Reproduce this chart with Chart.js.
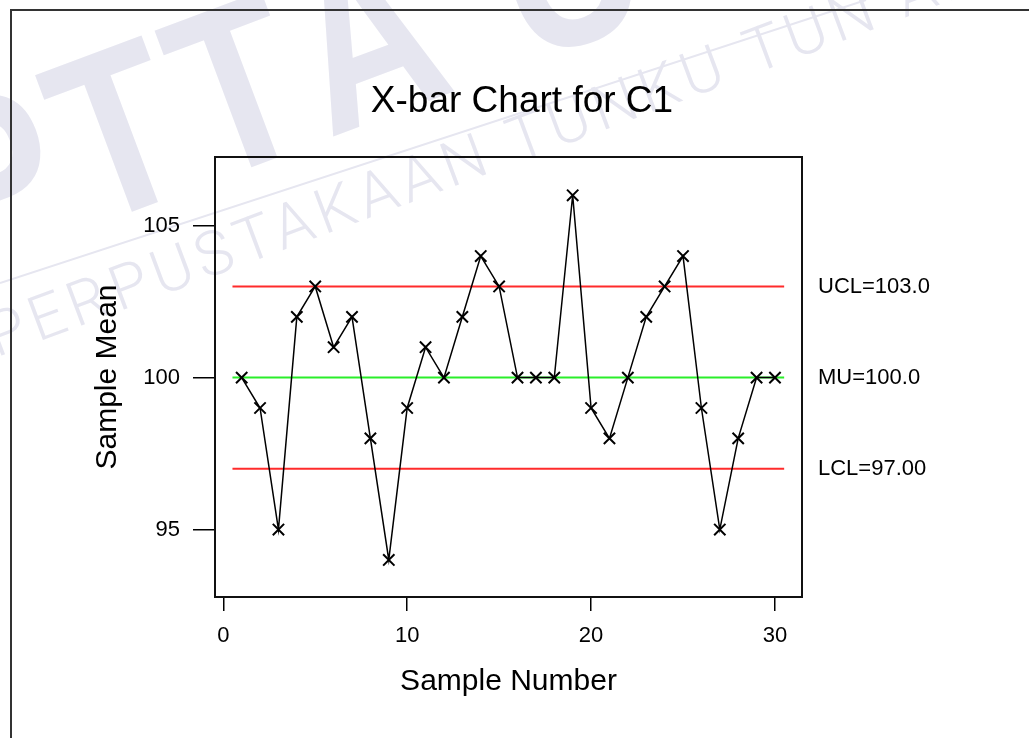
<!DOCTYPE html>
<html>
<head>
<meta charset="utf-8">
<title>X-bar Chart for C1</title>
<script src="https://cdn.jsdelivr.net/npm/chart.js@4.4.1/dist/chart.umd.min.js"></script>
<style>
  html, body { margin: 0; padding: 0; background: #fff; }
  #wrap { position: relative; width: 1029px; height: 738px; }
</style>
</head>
<body>
<div id="wrap"><canvas id="xbarChart" width="1029" height="738"></canvas></div>
<script>
// X-bar chart for C1: subgroup means with centre line and 3-sigma limits
var sampleNumbers = [1, 2, 3, 4, 5, 6, 7, 8, 9, 10, 11, 12, 13, 14, 15,
                     16, 17, 18, 19, 20, 21, 22, 23, 24, 25, 26, 27, 28, 29, 30];
var sampleMeans = [100, 99, 95, 102, 103, 101, 102, 98, 94, 99, 101, 100, 102, 104, 103,
                   100, 100, 100, 106, 99, 98, 100, 102, 103, 104, 99, 95, 98, 100, 100];
var centerLine = 100.0;
var upperLimit = 103.0;
var lowerLimit = 97.0;
var limitSpan = [0.5, 30.5];
var xTicks = [0, 10, 20, 30];
var yTicks = [95, 100, 105];
var limitTicks = [lowerLimit, centerLine, upperLimit];
var limitLabels = ['LCL=97.00', 'MU=100.0', 'UCL=103.0'];

Chart.defaults.font.family = '"Liberation Sans", Arial, Helvetica, sans-serif';
Chart.defaults.color = '#000';

function limitLine(value) {
  return limitSpan.map(function(x) { return { x: x, y: value }; });
}

// page background, library stamp and page frame
var pagePlugin = {
  id: 'page',
  beforeDraw: function(chart) {
    var c = chart.ctx;
    c.save();
    c.fillStyle = '#fff';
    c.fillRect(0, 0, chart.width, chart.height);

    var ang = -20.5 * Math.PI / 180;
    c.fillStyle = '#e6e6f0';
    c.strokeStyle = '#e6e6f0';

    // big stamp letters, narrow bold face
    c.save();
    c.translate(145, 207);
    c.rotate(ang);
    c.scale(0.82, 1);
    c.font = 'bold 235px "Liberation Sans", Arial, sans-serif';
    c.fontKerning = 'none';
    c.letterSpacing = '12px';
    c.textBaseline = 'alphabetic';
    var x0 = -(c.measureText('P').width + c.measureText('T').width / 2 - 6);
    c.fillText('PTTA UTHM', x0, 0);
    c.restore();

    c.save();
    c.translate(0, 356);
    c.rotate(ang);
    c.font = '300 62px Roboto, Lato, "Liberation Sans", sans-serif';
    c.letterSpacing = '6px';
    c.fillText('PERPUSTAKAAN TUNKU TUN AMINAH', -4, 0);
    c.restore();

    c.lineWidth = 2;
    c.beginPath();
    c.moveTo(0, 283);
    c.lineTo(866, 0);
    c.stroke();
    c.restore();
  },
  afterDraw: function(chart) {
    var c = chart.ctx;
    c.save();
    c.strokeStyle = '#333';
    c.lineWidth = 2;
    c.beginPath();
    c.moveTo(chart.width, 10);
    c.lineTo(11, 10);
    c.lineTo(11, chart.height);
    c.stroke();
    c.restore();
  }
};

// closed box around the plotting region
var boxPlugin = {
  id: 'box',
  afterDatasetsDraw: function(chart) {
    var a = chart.chartArea;
    var c = chart.ctx;
    c.save();
    c.strokeStyle = '#111';
    c.lineWidth = 2;
    c.strokeRect(a.left, a.top, a.right - a.left, a.bottom - a.top);
    c.restore();
  }
};

new Chart(document.getElementById('xbarChart'), {
  type: 'line',
  data: {
    datasets: [{
      label: 'C1',
      data: sampleNumbers.map(function(n, i) { return { x: n, y: sampleMeans[i] }; }),
      borderColor: '#000',
      borderWidth: 1.5,
      pointStyle: 'crossRot',
      pointRadius: 8,
      pointBorderWidth: 2,
      pointBorderColor: '#000',
      tension: 0
    }, {
      label: 'UCL',
      data: limitLine(upperLimit),
      borderColor: '#ff2b2b',
      borderWidth: 2,
      pointRadius: 0
    }, {
      label: 'MU',
      data: limitLine(centerLine),
      borderColor: '#2aee2a',
      borderWidth: 2,
      pointRadius: 0
    }, {
      label: 'LCL',
      data: limitLine(lowerLimit),
      borderColor: '#ff2b2b',
      borderWidth: 2,
      pointRadius: 0
    }]
  },
  options: {
    responsive: false,
    animation: false,
    devicePixelRatio: 1,
    layout: { padding: { left: 20, right: 5, top: 80, bottom: 21 } },
    plugins: {
      legend: { display: false },
      tooltip: { enabled: false },
      title: {
        display: true,
        text: 'X-bar Chart for C1',
        color: '#000',
        font: { size: 37, weight: 'normal' },
        padding: { top: 0, bottom: 32.6 }
      }
    },
    scales: {
      x: {
        type: 'linear',
        min: -0.45,
        max: 31.47,
        afterBuildTicks: function(s) { s.ticks = xTicks.map(function(v) { return { value: v }; }); },
        afterFit: function(s) { s.height = 120; },
        border: { display: false },
        grid: { drawOnChartArea: false, tickLength: 14, color: '#000', lineWidth: 1.5 },
        ticks: { font: { size: 22 }, padding: 12, autoSkip: false, maxRotation: 0 },
        title: {
          display: true,
          text: 'Sample Number',
          font: { size: 30 },
          padding: { top: 0, bottom: 17 }
        }
      },
      y: {
        min: 92.78,
        max: 107.26,
        afterBuildTicks: function(s) { s.ticks = yTicks.map(function(v) { return { value: v }; }); },
        afterFit: function(s) { s.width = 195; },
        border: { display: false },
        grid: { drawOnChartArea: false, tickLength: 22, color: '#000', lineWidth: 1.5 },
        ticks: { font: { size: 22 }, padding: 13, autoSkip: false },
        title: {
          display: true,
          text: 'Sample Mean',
          font: { size: 30 },
          padding: { top: 70, bottom: 0 }
        }
      },
      limits: {
        position: 'right',
        min: 92.78,
        max: 107.26,
        afterBuildTicks: function(s) { s.ticks = limitTicks.map(function(v) { return { value: v }; }); },
        afterFit: function(s) { s.width = 222; },
        border: { display: false },
        grid: { display: false, drawTicks: false },
        ticks: {
          font: { size: 22 },
          padding: 16,
          autoSkip: false,
          callback: function(v) { return limitLabels[limitTicks.indexOf(v)]; }
        }
      }
    }
  },
  plugins: [pagePlugin, boxPlugin]
});
</script>
</body>
</html>
